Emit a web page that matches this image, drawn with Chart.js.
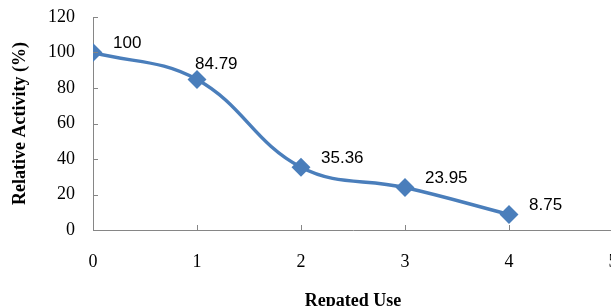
<!DOCTYPE html>
<html>
<head>
<meta charset="utf-8">
<script src="https://cdn.jsdelivr.net/npm/chart.js@4"></script>
<style>
  html, body { margin: 0; padding: 0; background: #fff; }
  #wrap { width: 611px; height: 306px; overflow: hidden; position: relative; }
  #wrap canvas { position: absolute; left: 0; top: 0; }
</style>
</head>
<body>
<div id="wrap"><canvas id="myChart" width="640" height="312"></canvas></div>
<script>
const reuseCycles = [0, 1, 2, 3, 4];
const relativeActivity = [100, 84.79, 35.36, 23.95, 8.75];
const yTicks = [0, 20, 40, 60, 80, 100, 120];
const xTicks = [0, 1, 2, 3, 4, 5];

const lineBlue = '#4a7ebb';
const axisGrey = '#868686';

// Excel style tick marks that point into the plot
const innerTicks = {
  id: 'innerTicks',
  afterDraw(chart) {
    const ctx = chart.ctx;
    const x = chart.scales.x;
    const y = chart.scales.y;
    ctx.save();
    ctx.strokeStyle = axisGrey;
    ctx.lineWidth = 1;
    ctx.beginPath();
    yTicks.forEach((v) => {
      const py = Math.round(y.getPixelForValue(v)) + 0.5;
      ctx.moveTo(x.left, py);
      ctx.lineTo(x.left + 5, py);
    });
    xTicks.forEach((v) => {
      const px = Math.round(x.getPixelForValue(v)) + 0.5;
      ctx.moveTo(px, y.bottom);
      ctx.lineTo(px, y.bottom - 5);
    });
    ctx.stroke();
    ctx.restore();
  }
};

const pointLabels = {
  id: 'pointLabels',
  afterDatasetsDraw(chart) {
    const ctx = chart.ctx;
    const meta = chart.getDatasetMeta(0);
    ctx.save();
    ctx.font = '17px "Liberation Sans", Arial, sans-serif';
    ctx.fillStyle = '#000';
    ctx.textAlign = 'left';
    ctx.textBaseline = 'middle';
    meta.data.forEach((pt, i) => {
      let dx = 20, dy = -9;
      if (i === 1) { dx = -2; dy = -15; }
      ctx.fillText(String(relativeActivity[i]), pt.x + dx, pt.y + dy);
    });
    ctx.restore();
  }
};

const serif = '"Liberation Serif", "Times New Roman", serif';
const ctx = document.getElementById('myChart').getContext('2d');
const chart = new Chart(ctx, {
  type: 'line',
  data: {
    datasets: [{
      data: reuseCycles.map((c, i) => ({ x: c, y: relativeActivity[i] })),
      borderColor: lineBlue,
      backgroundColor: lineBlue,
      borderWidth: 3.5,
      tension: 0.4,
      pointStyle: 'rectRot',
      pointRadius: 7,
      pointHoverRadius: 7
    }]
  },
  options: {
    responsive: false,
    animation: false,
    events: [],
    layout: { padding: { top: 17, right: 27, left: 0, bottom: 0 } },
    plugins: { legend: { display: false }, tooltip: { enabled: false } },
    scales: {
      x: {
        type: 'linear',
        min: 0,
        max: 5,
        afterFit: (s) => { s.height = 82; s.paddingLeft = 0; s.paddingRight = 0; },
        afterBuildTicks: (s) => { s.ticks = xTicks.map((v) => ({ value: v })); },
        grid: { display: false, drawTicks: false },
        border: { display: true, color: axisGrey, width: 1 },
        ticks: { padding: 21, color: '#000', font: { family: serif, size: 18 } },
        title: {
          display: true,
          text: 'Repated Use',
          color: '#000',
          padding: 0,
          font: { family: serif, size: 18, weight: 'bold' }
        }
      },
      y: {
        min: 0,
        max: 120,
        afterFit: (s) => { s.width = 93; s.paddingTop = 0; s.paddingBottom = 0; },
        afterBuildTicks: (s) => { s.ticks = yTicks.map((v) => ({ value: v })); },
        grid: { display: false, drawTicks: false },
        border: { display: true, color: axisGrey, width: 1 },
        ticks: { padding: 18, color: '#000', font: { family: serif, size: 18 } },
        title: {
          display: true,
          text: 'Relative Activity (%)',
          color: '#000',
          padding: { top: 10, bottom: 0 },
          font: { family: serif, size: 18, weight: 'bold' }
        }
      }
    }
  },
  plugins: [innerTicks, pointLabels]
});
</script>
</body>
</html>
